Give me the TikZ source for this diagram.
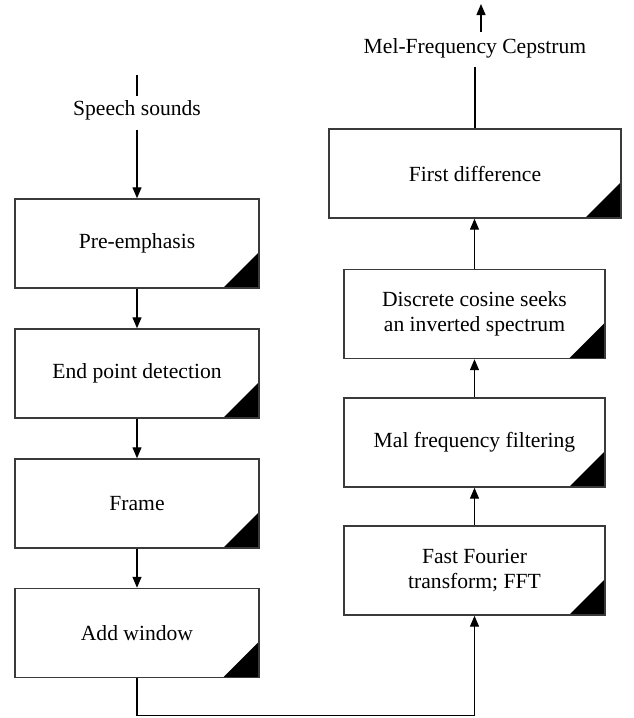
\documentclass[tikz,border=0pt]{standalone}
\usepackage{fontspec}
\setmainfont{Liberation Serif}
\usetikzlibrary{arrows.meta}
\definecolor{edge}{HTML}{3A3A3A}
\tikzset{
  stage/.style={draw=edge, line width=1.4pt, fill=white, align=center,
    font=\fontsize{21.6}{25}\selectfont, inner sep=0pt,
    path picture={\fill[black] (path picture bounding box.south east)
      -- ++(-36pt,0pt) -- ++(36pt,36pt) -- cycle;}},
  leftstage/.style={stage, minimum width=244pt, minimum height=89pt},
  rightstage/.style={stage, minimum width=261pt, minimum height=89pt},
  flow/.style={line width=1.3pt, -{Triangle[length=11pt,width=9pt]}},
  plain/.style={line width=1.3pt},
  caption/.style={font=\fontsize{21.6}{25}\selectfont, inner sep=0pt}
}
\begin{document}
\begin{tikzpicture}[x=1pt,y=-1pt]
\useasboundingbox (0,0) rectangle (633,718);

% left column: preprocessing
\node[leftstage] (pre)   at (137,243.5) {Pre-emphasis};
\node[leftstage] (endp)  at (137,373.5) {End point detection};
\node[leftstage] (frame) at (137,503.5) {Frame};
\node[leftstage] (win)   at (137,633)   {Add window};

% right column: spectral processing
\node[rightstage] (fft)  at (474.5,570.5) {Fast Fourier\\transform; FFT};
\node[rightstage] (mal)  at (474.5,442.5) {Mal frequency filtering};
\node[rightstage] (dct)  at (474.5,314)   {Discrete cosine seeks\\an inverted spectrum};
\node[stage, minimum width=292pt, minimum height=89pt] (first) at (475,173.5) {First difference};

% input and output labels
\node[caption] (speech) at (137,110) {Speech sounds};
\node[caption] (mfcc)   at (475,48)  {Mel-Frequency Cepstrum};

\coordinate (sA) at (137,75);
\coordinate (sB) at (137,95.5);
\coordinate (sC) at (137,130);
\coordinate (mLow) at (475,66.5);
\coordinate (mA) at (481,32);
\coordinate (mTop) at (481,4);
\coordinate (bend) at (137,715.5);

% connectors
\draw[plain] (sA) -- (sB);
\draw[flow] (sC) -- (pre.north);
\draw[flow] (pre) -- (endp);
\draw[flow] (endp) -- (frame);
\draw[flow] (frame) -- (win);
\draw[flow] (win.south) -- (bend) -| (fft.south);
\draw[flow] (fft) -- (mal);
\draw[flow] (mal) -- (dct);
\draw[flow] (dct.north) -- (dct.north |- first.south);
\draw[plain] (first.north) -- (mLow);
\draw[flow] (mA) -- (mTop);
\end{tikzpicture}
\end{document}
